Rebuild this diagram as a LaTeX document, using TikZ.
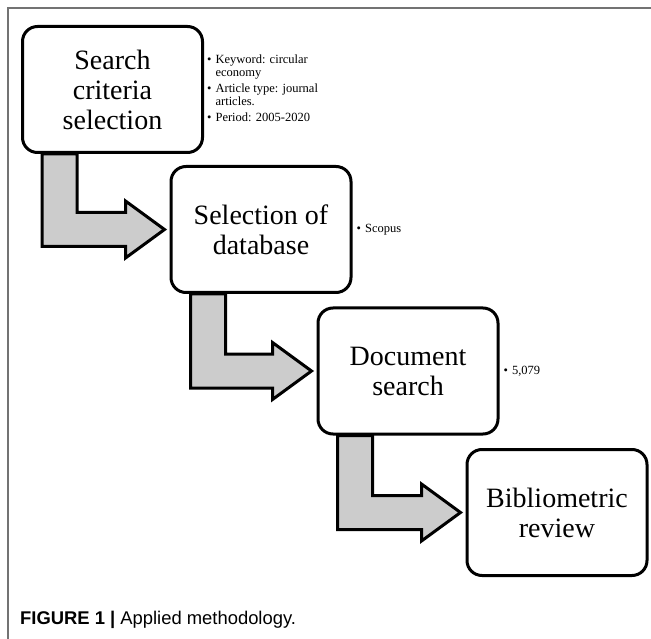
\documentclass[tikz,border=0pt]{standalone}
\usepackage{fontspec}
\setmainfont{Liberation Serif}
\newfontfamily\captionfont{Liberation Sans}
\usepackage{tikz}
\usetikzlibrary{positioning, calc, backgrounds}
\tikzstyle{stepbox} = [draw, line width=3pt, rounded corners=15pt, minimum width=180pt, minimum height=126pt, inner sep=0pt, align=center, font=\fontsize{28}{30}\selectfont]
\tikzstyle{note} = [inner sep=0pt, font=\fontsize{12.5}{13}\selectfont]
\tikzstyle{elbow} = [draw, line width=3pt, fill=gray!40, line join=miter]

\begin{document}
\begin{tikzpicture}[x=1pt, y=-1pt]

        \useasboundingbox (0,0) rectangle (651,639);

        % Frame
        \draw[black!55, line width=1.5pt] (8,639) -- (8,8) -- (651,8);

        % Steps
        \node[stepbox] (crit) at (112.5,89.5) {Search\\criteria\\selection};
        \node[stepbox] (db) at (261,229.5) {Selection of\\database};
        \node[stepbox] (docs) at (408,371) {Document\\search};
        \node[stepbox] (review) at (557,512.5) {Bibliometric\\review};

        % Notes
        \node[note, right=3pt of crit] (critnote) {\begin{tabular}{@{}l@{\hspace{4pt}}l@{}}
            \textbullet & Keyword: circular\\ & economy\\[3pt]
            \textbullet & Article type: journal\\ & articles.\\[3pt]
            \textbullet & Period: 2005-2020
        \end{tabular}};
        \node[note, right=4pt of db] (dbnote) {\textbullet\hspace{4pt}Scopus};
        \node[note, right=4pt of docs] (docsnote) {\textbullet\hspace{4pt}5,079};

        % Elbow arrows
        \begin{pgfonlayer}{background}
        % criteria -> database
        \draw[elbow] ($(crit.south west)+(21,0)$) |- ($(db.west)+(-44,17)$) -- ++(0,11.5)
            -- ($(db.west)+(-5,0)$) -- ++(-39,-28.5) -- ++(0,11.5) -| ($(crit.south west)+(56,0)$) -- cycle;
        % database -> search
        \draw[elbow] ($(db.south west)+(21,0)$) |- ($(docs.west)+(-44,17)$) -- ++(0,11.5)
            -- ($(docs.west)+(-5,0)$) -- ++(-39,-28.5) -- ++(0,11.5) -| ($(db.south west)+(56,0)$) -- cycle;
        % search -> review
        \draw[elbow] ($(docs.south west)+(21,0)$) |- ($(review.west)+(-44,17)$) -- ++(0,11.5)
            -- ($(review.west)+(-5,0)$) -- ++(-39,-28.5) -- ++(0,11.5) -| ($(docs.south west)+(56,0)$) -- cycle;
        \end{pgfonlayer}

        % Caption
        \node[anchor=base west, inner sep=0pt, font=\captionfont\fontsize{18.4}{21}\selectfont] (caption) at (20,624) {\textbf{FIGURE 1 |} Applied methodology.};

\end{tikzpicture}
\end{document}
